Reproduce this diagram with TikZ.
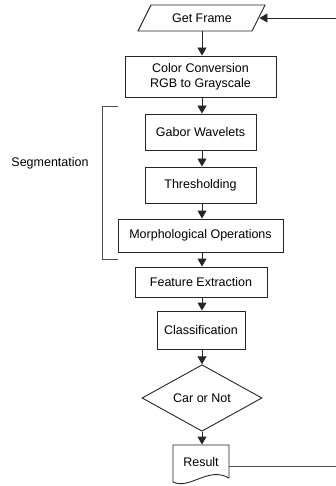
\documentclass[tikz,border=0pt]{standalone}
\usepackage{fontspec}
\setmainfont{Liberation Sans}
\usetikzlibrary{shapes.geometric,arrows.meta}
\begin{document}
\begin{tikzpicture}[x=1pt,y=-1pt,
  line width=0.9pt,
  every node/.style={font=\fontsize{12.5}{15}\selectfont, inner sep=0pt},
  stepbox/.style={draw=black!85, rectangle, align=center},
  plain/.style={rectangle},
  flow/.style={draw=black!85, -{Triangle[length=8pt,width=9pt]}},
  link/.style={draw=black!70}]
\useasboundingbox (0,0) rectangle (336,486);

% input parallelogram
\draw[black!85] (151,5) -- (265,5) -- (252,31) -- (138,31) -- cycle;
\node[plain, minimum width=114, minimum height=26] (gf) at (202,18) {Get Frame};

% processing steps
\node[stepbox, minimum width=151, minimum height=41] (cc) at (200.5,76.5) {Color Conversion\\RGB to Grayscale};
\node[stepbox, minimum width=111, minimum height=36] (gw) at (200.5,132) {Gabor Wavelets};
\node[stepbox, minimum width=111, minimum height=36] (th) at (200.5,185) {Thresholding};
\node[stepbox, minimum width=165, minimum height=33] (mo) at (200.5,235.5) {Morphological Operations};
\node[stepbox, minimum width=132, minimum height=30] (fe) at (201,282) {Feature Extraction};
\node[stepbox, minimum width=88, minimum height=38] (cl) at (201,330) {Classification};

% decision
\node[draw=black!85, diamond, minimum width=120, minimum height=62] (dm) at (202,398) {Car or Not};

% output document
\draw[black!85] (229,478) -- (229,445) -- (173,445) -- (173,482)
  .. controls (190,490) and (208,466) .. (229,478);
\node[plain, minimum width=56, minimum height=34] (res) at (201,462) {Result};

% segmentation bracket
\coordinate (bt) at (118,106);
\coordinate (bb) at (118,259);
\draw[link] (bt) -- (102,106) -- (102,259) -- (bb);
\node (seg) at (50,163) {Segmentation};

% main flow
\draw[flow] (gf.south -| 202,0) -- (cc.north -| 202,0);
\draw[flow] (cc.south -| 202,0) -- (gw.north -| 202,0);
\draw[flow] (gw.south -| 202,0) -- (th.north -| 202,0);
\draw[flow] (th.south -| 202,0) -- (mo.north -| 202,0);
\draw[flow] (mo.south -| 202,0) -- (fe.north -| 202,0);
\draw[flow] (fe.south -| 202,0) -- (cl.north -| 202,0);
\draw[flow] (cl.south -| 202,0) -- (dm.north);
\draw[flow] (dm.south) -- (res.north -| 202,0);

% feedback loop to the next frame
\coordinate (resR) at (229,466);
\draw[link] (resR) -- (338,466) -- (338,18);
\draw[flow] (338,18) -- (gf.east);
\end{tikzpicture}
\end{document}
